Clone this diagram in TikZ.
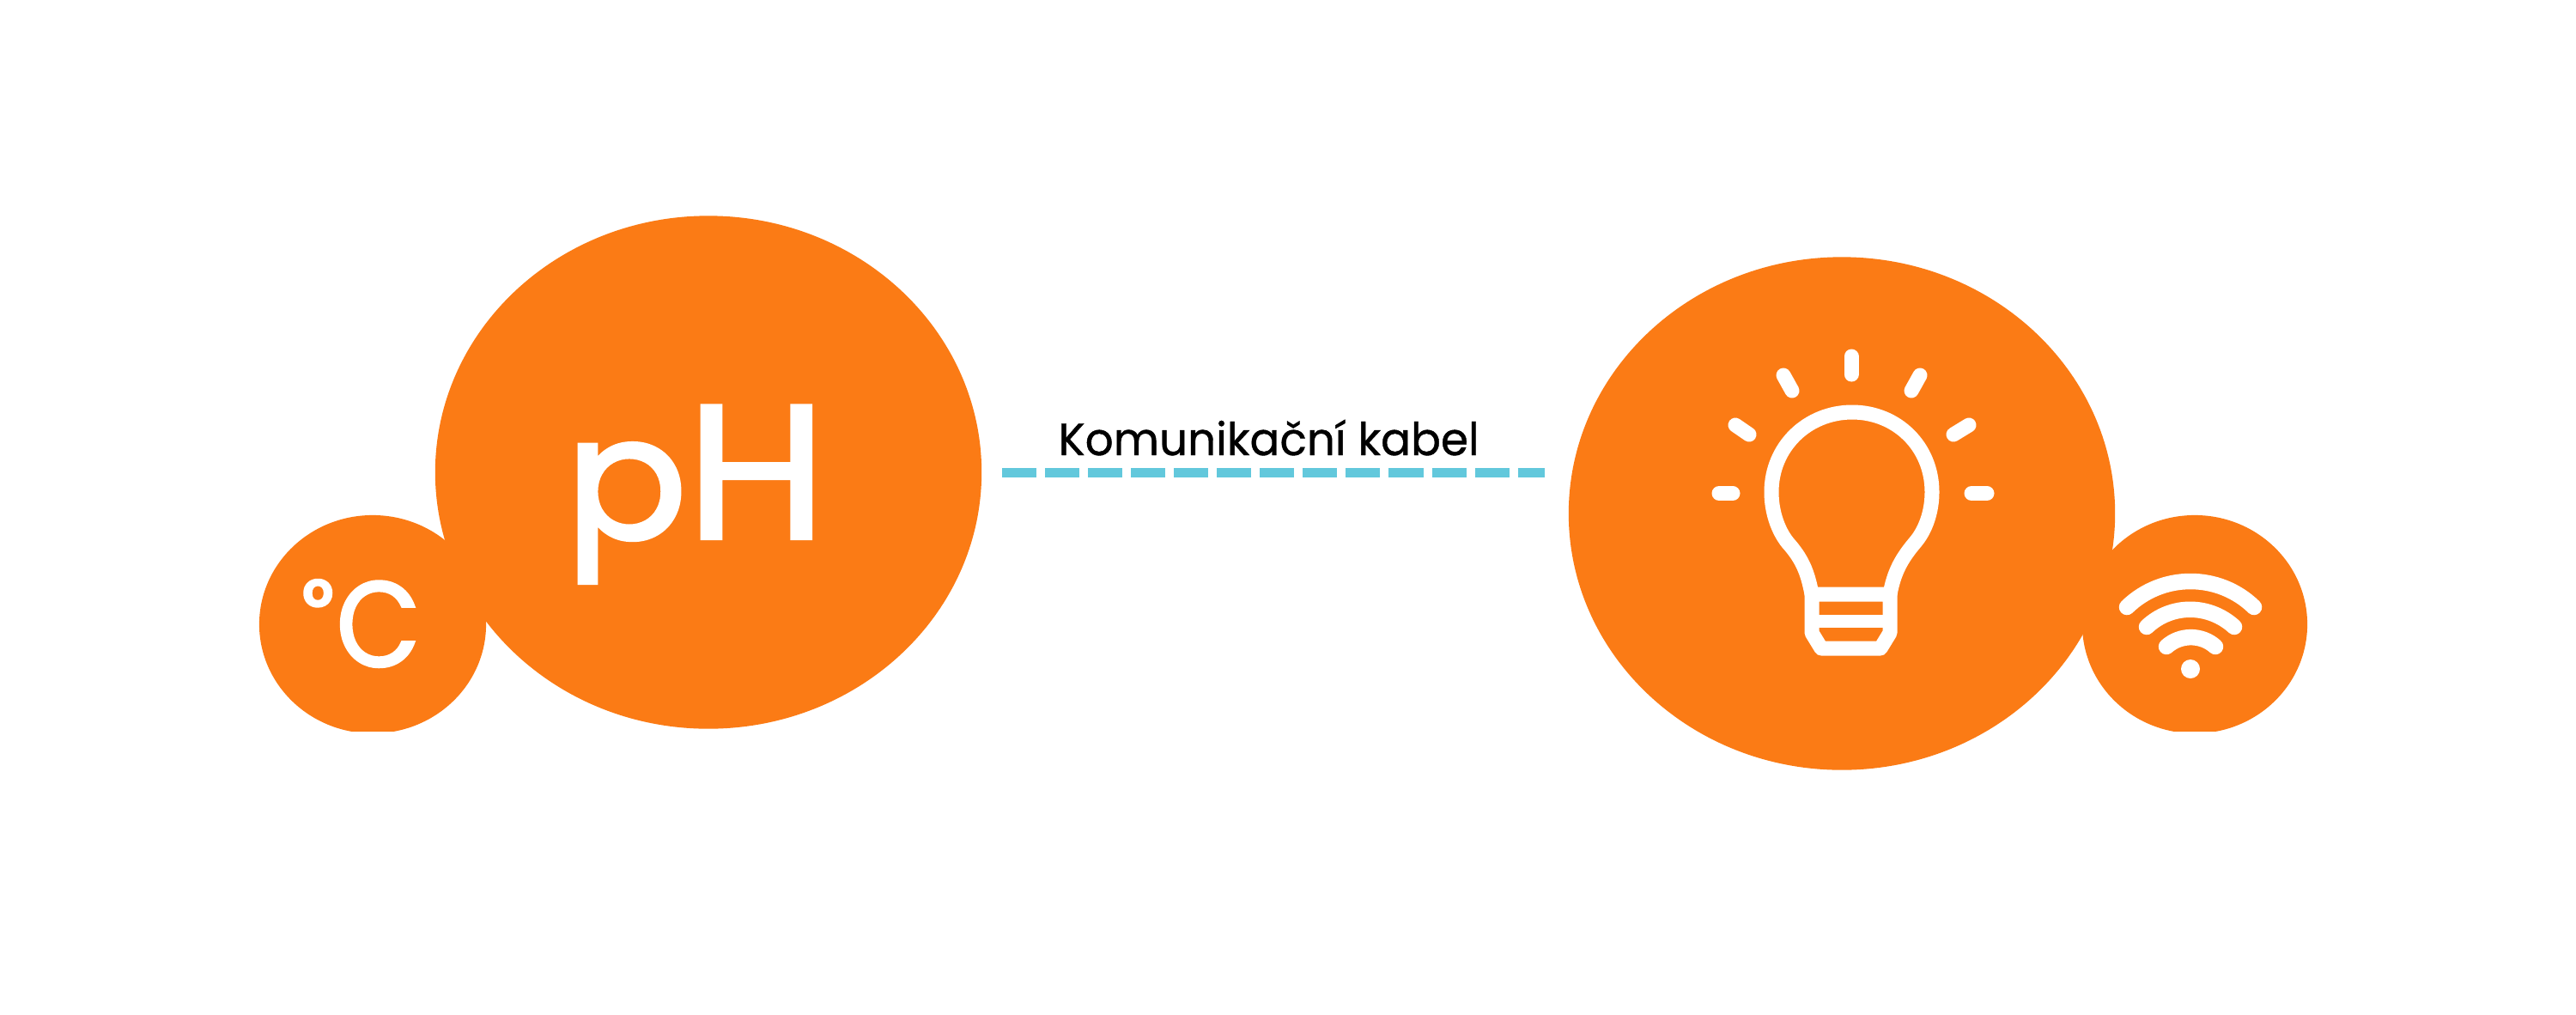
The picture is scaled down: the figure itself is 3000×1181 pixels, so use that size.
\documentclass[tikz,border=0pt]{standalone}
\usepackage{fontspec}
\setmainfont{Poppins}
\newfontfamily\pfont[FakeBold=2.4,FakeStretch=1.05]{Poppins}
\newfontfamily\hfont[FakeBold=2,FakeStretch=1.06]{Poppins}
\newfontfamily\cfont[FakeBold=2,FakeStretch=0.9]{Poppins}
\newfontfamily\dfont[FakeBold=5]{Poppins}
\newfontfamily\labelfont[FakeBold=0.8,FakeStretch=0.98]{Poppins}
\usetikzlibrary{shapes.geometric}
\definecolor{orangefill}{HTML}{FB7B15}
\definecolor{cablecol}{HTML}{62C8DC}
\tikzset{
  x=0.01cm,y=-0.01cm,
  blob/.style={ellipse,fill=orangefill,inner sep=0pt,outer sep=0pt},
  iconline/.style={draw=white,line width=0.17cm,line cap=round,line join=round},
  wifiline/.style={draw=white,line width=0.185cm,line cap=round},
  glyph/.style={text=white,anchor=base west,inner sep=0pt,outer sep=0pt},
  cable/.style={draw=cablecol,line width=0.11cm,dash pattern=on 0.40cm off 0.10cm},
}
\begin{document}
\begin{tikzpicture}
\useasboundingbox[fill=white] (0,0) rectangle (3000,1181);
\begin{scope}
  \clip (0,0) rectangle (3000,851);
  \node[blob,minimum width=2.64cm,minimum height=2.54cm] (temp) at (434,727) {};
  \node[blob,minimum width=2.62cm,minimum height=2.54cm] (wifi) at (2556,727) {};
\end{scope}
\node[blob,minimum width=6.36cm,minimum height=5.97cm] (ph) at (825,550) {};
\node[blob,minimum width=6.36cm,minimum height=5.97cm] (bulb) at (2145,598) {};
% labels
\node[glyph] (phtext) at (659,627) {{\pfont\fontsize{56.5}{60}\selectfont p}\kern-0.1pt{\hfont\fontsize{63}{64}\selectfont H}};
\node[glyph,font=\cfont\fontsize{40}{40}\selectfont] (ctext) at (353,776) {\raisebox{11.7pt}{\dfont\fontsize{24}{24}\selectfont °}\kern1.2pt C};
\node[anchor=base west,inner sep=0pt,text=black,font=\labelfont\fontsize{15}{15}\selectfont] (cablelabel) at (1232,530) {Komunikační kabel};
% cable
\draw[cable,shorten <=0.24cm,shorten >=0.28cm] (ph.east) -- (ph.east -| bulb.west);
% bulb
\draw[iconline,line cap=butt] (2110,692) .. controls (2105,665) and (2098,650) .. (2082,632) .. controls (2070,617) and (2063,595) .. (2063,573) .. controls (2063,520) and (2105,480) .. (2157,480) .. controls (2209,480) and (2250,520) .. (2250,573) .. controls (2250,595) and (2243,617) .. (2230,632) .. controls (2215,650) and (2206,665) .. (2201,692);
\draw[iconline] (2110,692) -- (2201,692) -- (2201,737) -- (2190,755) -- (2121,755) -- (2110,737) -- cycle;
\draw[iconline,line width=0.15cm,line cap=butt] (2110,723) -- (2201,723);
\draw[iconline] (2156,415) -- (2156,436);
\draw[iconline] (2077,437) -- (2087,455);
\draw[iconline] (2236,437) -- (2226,455);
\draw[iconline] (2021,495) -- (2037,506);
\draw[iconline] (2293,495) -- (2275,506);
\draw[iconline] (2002,574.5) -- (2018,574.5);
\draw[iconline] (2296,574.5) -- (2314,574.5);
% wifi
\draw[wifiline] (2477,707) .. controls (2518,667) and (2584,667) .. (2625,707);
\draw[wifiline] (2500,730) .. controls (2528.5,703) and (2572.5,703) .. (2602,730);
\draw[wifiline] (2523,753) .. controls (2539,738.5) and (2564,738.5) .. (2580,753);
\fill[white] (2551,779) circle (0.11cm);
\end{tikzpicture}
\end{document}
